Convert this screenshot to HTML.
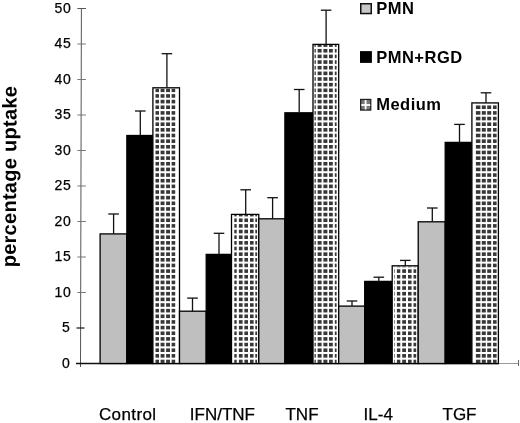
<!DOCTYPE html>
<html><head><meta charset="utf-8"><style>
html,body{margin:0;padding:0;background:#fff;}
svg{display:block;filter:blur(0.3px);}
text{font-family:"Liberation Sans",sans-serif;fill:#000;}
.tk,.xl{stroke:#000;stroke-width:0.25px;}
.tk{font-size:14px;letter-spacing:0.8px;}
.lg{font-size:16.5px;font-weight:bold;letter-spacing:0.5px;}
.xl{font-size:17px;}
.yt{font-size:20px;font-weight:bold;letter-spacing:0.28px;}
</style></head><body>
<svg width="520" height="423" viewBox="0 0 520 423">
<defs><clipPath id="cp2"><rect x="152.90" y="88.40" width="26.60" height="274.50"/></clipPath><clipPath id="cp5"><rect x="231.50" y="215.00" width="27.30" height="147.90"/></clipPath><clipPath id="cp8"><rect x="313.00" y="45.00" width="25.70" height="317.90"/></clipPath><clipPath id="cp11"><rect x="392.20" y="266.40" width="26.00" height="96.50"/></clipPath><clipPath id="cp14"><rect x="471.90" y="103.50" width="26.50" height="259.40"/></clipPath></defs>
<rect width="520" height="423" fill="#fff"/>
<line x1="81.4" y1="8.0" x2="80.5" y2="367" stroke="#555" stroke-width="1"/>
<line x1="76.5" y1="363.50" x2="84.5" y2="363.50" stroke="#222" stroke-width="1"/>
<text x="70.6" y="367.90" text-anchor="end" class="tk">0</text>
<line x1="76.5" y1="328.00" x2="84.5" y2="328.00" stroke="#222" stroke-width="1.3"/>
<text x="70.6" y="332.40" text-anchor="end" class="tk">5</text>
<line x1="77.4" y1="292.50" x2="85.9" y2="292.50" stroke="#777" stroke-width="1"/>
<text x="71.6" y="296.90" text-anchor="end" class="tk">10</text>
<line x1="77.4" y1="257.00" x2="85.9" y2="257.00" stroke="#777" stroke-width="1"/>
<text x="71.6" y="261.40" text-anchor="end" class="tk">15</text>
<line x1="77.4" y1="221.50" x2="85.9" y2="221.50" stroke="#777" stroke-width="1"/>
<text x="71.6" y="225.90" text-anchor="end" class="tk">20</text>
<line x1="77.4" y1="186.00" x2="85.9" y2="186.00" stroke="#777" stroke-width="1"/>
<text x="71.6" y="190.40" text-anchor="end" class="tk">25</text>
<line x1="77.4" y1="150.50" x2="85.9" y2="150.50" stroke="#777" stroke-width="1"/>
<text x="71.6" y="154.90" text-anchor="end" class="tk">30</text>
<line x1="77.4" y1="115.00" x2="85.9" y2="115.00" stroke="#777" stroke-width="1"/>
<text x="71.6" y="119.40" text-anchor="end" class="tk">35</text>
<line x1="77.4" y1="79.50" x2="85.9" y2="79.50" stroke="#777" stroke-width="1"/>
<text x="71.6" y="83.90" text-anchor="end" class="tk">40</text>
<line x1="77.4" y1="44.00" x2="85.9" y2="44.00" stroke="#777" stroke-width="1"/>
<text x="71.6" y="48.40" text-anchor="end" class="tk">45</text>
<line x1="77.4" y1="8.50" x2="85.9" y2="8.50" stroke="#555" stroke-width="1"/>
<text x="71.6" y="12.90" text-anchor="end" class="tk">50</text>
<line x1="76" y1="363.50" x2="499" y2="363.50" stroke="#111" stroke-width="1.3"/>
<line x1="499" y1="363.50" x2="518.5" y2="363.50" stroke="#999" stroke-width="1"/>
<line x1="518.5" y1="360" x2="518.5" y2="366" stroke="#666" stroke-width="1"/>
<rect x="100.10" y="233.90" width="26.75" height="129.60" fill="#bfbfbf" stroke="#000" stroke-width="1.3"/>
<line x1="113.60" y1="214.00" x2="113.60" y2="233.90" stroke="#111" stroke-width="1.3"/>
<line x1="108.30" y1="214.00" x2="118.90" y2="214.00" stroke="#111" stroke-width="1.3"/>
<rect x="126.85" y="135.50" width="26.05" height="228.00" fill="#000" stroke="#000" stroke-width="1.3"/>
<line x1="140.30" y1="111.00" x2="140.30" y2="135.50" stroke="#111" stroke-width="1.3"/>
<line x1="135.00" y1="111.00" x2="145.60" y2="111.00" stroke="#111" stroke-width="1.3"/>
<rect x="152.90" y="87.80" width="26.60" height="275.70" fill="#fff" stroke="#000" stroke-width="1.3"/>
<g clip-path="url(#cp2)" fill="#383838"><rect x="155.5" y="88.50" width="3.50" height="3.6"/><rect x="160.6" y="88.50" width="3.90" height="3.6"/><rect x="166.1" y="88.50" width="3.90" height="3.6"/><rect x="171.6" y="88.50" width="3.60" height="3.6"/><rect x="155.5" y="94.15" width="3.50" height="3.6"/><rect x="160.6" y="94.15" width="3.90" height="3.6"/><rect x="166.1" y="94.15" width="3.90" height="3.6"/><rect x="171.6" y="94.15" width="3.60" height="3.6"/><rect x="155.5" y="99.80" width="3.50" height="3.6"/><rect x="160.6" y="99.80" width="3.90" height="3.6"/><rect x="166.1" y="99.80" width="3.90" height="3.6"/><rect x="171.6" y="99.80" width="3.60" height="3.6"/><rect x="155.5" y="105.45" width="3.50" height="3.6"/><rect x="160.6" y="105.45" width="3.90" height="3.6"/><rect x="166.1" y="105.45" width="3.90" height="3.6"/><rect x="171.6" y="105.45" width="3.60" height="3.6"/><rect x="155.5" y="111.10" width="3.50" height="3.6"/><rect x="160.6" y="111.10" width="3.90" height="3.6"/><rect x="166.1" y="111.10" width="3.90" height="3.6"/><rect x="171.6" y="111.10" width="3.60" height="3.6"/><rect x="155.5" y="116.75" width="3.50" height="3.6"/><rect x="160.6" y="116.75" width="3.90" height="3.6"/><rect x="166.1" y="116.75" width="3.90" height="3.6"/><rect x="171.6" y="116.75" width="3.60" height="3.6"/><rect x="155.5" y="122.40" width="3.50" height="3.6"/><rect x="160.6" y="122.40" width="3.90" height="3.6"/><rect x="166.1" y="122.40" width="3.90" height="3.6"/><rect x="171.6" y="122.40" width="3.60" height="3.6"/><rect x="155.5" y="128.05" width="3.50" height="3.6"/><rect x="160.6" y="128.05" width="3.90" height="3.6"/><rect x="166.1" y="128.05" width="3.90" height="3.6"/><rect x="171.6" y="128.05" width="3.60" height="3.6"/><rect x="155.5" y="133.70" width="3.50" height="3.6"/><rect x="160.6" y="133.70" width="3.90" height="3.6"/><rect x="166.1" y="133.70" width="3.90" height="3.6"/><rect x="171.6" y="133.70" width="3.60" height="3.6"/><rect x="155.5" y="139.35" width="3.50" height="3.6"/><rect x="160.6" y="139.35" width="3.90" height="3.6"/><rect x="166.1" y="139.35" width="3.90" height="3.6"/><rect x="171.6" y="139.35" width="3.60" height="3.6"/><rect x="155.5" y="145.00" width="3.50" height="3.6"/><rect x="160.6" y="145.00" width="3.90" height="3.6"/><rect x="166.1" y="145.00" width="3.90" height="3.6"/><rect x="171.6" y="145.00" width="3.60" height="3.6"/><rect x="155.5" y="150.65" width="3.50" height="3.6"/><rect x="160.6" y="150.65" width="3.90" height="3.6"/><rect x="166.1" y="150.65" width="3.90" height="3.6"/><rect x="171.6" y="150.65" width="3.60" height="3.6"/><rect x="155.5" y="156.30" width="3.50" height="3.6"/><rect x="160.6" y="156.30" width="3.90" height="3.6"/><rect x="166.1" y="156.30" width="3.90" height="3.6"/><rect x="171.6" y="156.30" width="3.60" height="3.6"/><rect x="155.5" y="161.95" width="3.50" height="3.6"/><rect x="160.6" y="161.95" width="3.90" height="3.6"/><rect x="166.1" y="161.95" width="3.90" height="3.6"/><rect x="171.6" y="161.95" width="3.60" height="3.6"/><rect x="155.5" y="167.60" width="3.50" height="3.6"/><rect x="160.6" y="167.60" width="3.90" height="3.6"/><rect x="166.1" y="167.60" width="3.90" height="3.6"/><rect x="171.6" y="167.60" width="3.60" height="3.6"/><rect x="155.5" y="173.25" width="3.50" height="3.6"/><rect x="160.6" y="173.25" width="3.90" height="3.6"/><rect x="166.1" y="173.25" width="3.90" height="3.6"/><rect x="171.6" y="173.25" width="3.60" height="3.6"/><rect x="155.5" y="178.90" width="3.50" height="3.6"/><rect x="160.6" y="178.90" width="3.90" height="3.6"/><rect x="166.1" y="178.90" width="3.90" height="3.6"/><rect x="171.6" y="178.90" width="3.60" height="3.6"/><rect x="155.5" y="184.55" width="3.50" height="3.6"/><rect x="160.6" y="184.55" width="3.90" height="3.6"/><rect x="166.1" y="184.55" width="3.90" height="3.6"/><rect x="171.6" y="184.55" width="3.60" height="3.6"/><rect x="155.5" y="190.20" width="3.50" height="3.6"/><rect x="160.6" y="190.20" width="3.90" height="3.6"/><rect x="166.1" y="190.20" width="3.90" height="3.6"/><rect x="171.6" y="190.20" width="3.60" height="3.6"/><rect x="155.5" y="195.85" width="3.50" height="3.6"/><rect x="160.6" y="195.85" width="3.90" height="3.6"/><rect x="166.1" y="195.85" width="3.90" height="3.6"/><rect x="171.6" y="195.85" width="3.60" height="3.6"/><rect x="155.5" y="201.50" width="3.50" height="3.6"/><rect x="160.6" y="201.50" width="3.90" height="3.6"/><rect x="166.1" y="201.50" width="3.90" height="3.6"/><rect x="171.6" y="201.50" width="3.60" height="3.6"/><rect x="155.5" y="207.15" width="3.50" height="3.6"/><rect x="160.6" y="207.15" width="3.90" height="3.6"/><rect x="166.1" y="207.15" width="3.90" height="3.6"/><rect x="171.6" y="207.15" width="3.60" height="3.6"/><rect x="155.5" y="212.80" width="3.50" height="3.6"/><rect x="160.6" y="212.80" width="3.90" height="3.6"/><rect x="166.1" y="212.80" width="3.90" height="3.6"/><rect x="171.6" y="212.80" width="3.60" height="3.6"/><rect x="155.5" y="218.45" width="3.50" height="3.6"/><rect x="160.6" y="218.45" width="3.90" height="3.6"/><rect x="166.1" y="218.45" width="3.90" height="3.6"/><rect x="171.6" y="218.45" width="3.60" height="3.6"/><rect x="155.5" y="224.10" width="3.50" height="3.6"/><rect x="160.6" y="224.10" width="3.90" height="3.6"/><rect x="166.1" y="224.10" width="3.90" height="3.6"/><rect x="171.6" y="224.10" width="3.60" height="3.6"/><rect x="155.5" y="229.75" width="3.50" height="3.6"/><rect x="160.6" y="229.75" width="3.90" height="3.6"/><rect x="166.1" y="229.75" width="3.90" height="3.6"/><rect x="171.6" y="229.75" width="3.60" height="3.6"/><rect x="155.5" y="235.40" width="3.50" height="3.6"/><rect x="160.6" y="235.40" width="3.90" height="3.6"/><rect x="166.1" y="235.40" width="3.90" height="3.6"/><rect x="171.6" y="235.40" width="3.60" height="3.6"/><rect x="155.5" y="241.05" width="3.50" height="3.6"/><rect x="160.6" y="241.05" width="3.90" height="3.6"/><rect x="166.1" y="241.05" width="3.90" height="3.6"/><rect x="171.6" y="241.05" width="3.60" height="3.6"/><rect x="155.5" y="246.70" width="3.50" height="3.6"/><rect x="160.6" y="246.70" width="3.90" height="3.6"/><rect x="166.1" y="246.70" width="3.90" height="3.6"/><rect x="171.6" y="246.70" width="3.60" height="3.6"/><rect x="155.5" y="252.35" width="3.50" height="3.6"/><rect x="160.6" y="252.35" width="3.90" height="3.6"/><rect x="166.1" y="252.35" width="3.90" height="3.6"/><rect x="171.6" y="252.35" width="3.60" height="3.6"/><rect x="155.5" y="258.00" width="3.50" height="3.6"/><rect x="160.6" y="258.00" width="3.90" height="3.6"/><rect x="166.1" y="258.00" width="3.90" height="3.6"/><rect x="171.6" y="258.00" width="3.60" height="3.6"/><rect x="155.5" y="263.65" width="3.50" height="3.6"/><rect x="160.6" y="263.65" width="3.90" height="3.6"/><rect x="166.1" y="263.65" width="3.90" height="3.6"/><rect x="171.6" y="263.65" width="3.60" height="3.6"/><rect x="155.5" y="269.30" width="3.50" height="3.6"/><rect x="160.6" y="269.30" width="3.90" height="3.6"/><rect x="166.1" y="269.30" width="3.90" height="3.6"/><rect x="171.6" y="269.30" width="3.60" height="3.6"/><rect x="155.5" y="274.95" width="3.50" height="3.6"/><rect x="160.6" y="274.95" width="3.90" height="3.6"/><rect x="166.1" y="274.95" width="3.90" height="3.6"/><rect x="171.6" y="274.95" width="3.60" height="3.6"/><rect x="155.5" y="280.60" width="3.50" height="3.6"/><rect x="160.6" y="280.60" width="3.90" height="3.6"/><rect x="166.1" y="280.60" width="3.90" height="3.6"/><rect x="171.6" y="280.60" width="3.60" height="3.6"/><rect x="155.5" y="286.25" width="3.50" height="3.6"/><rect x="160.6" y="286.25" width="3.90" height="3.6"/><rect x="166.1" y="286.25" width="3.90" height="3.6"/><rect x="171.6" y="286.25" width="3.60" height="3.6"/><rect x="155.5" y="291.90" width="3.50" height="3.6"/><rect x="160.6" y="291.90" width="3.90" height="3.6"/><rect x="166.1" y="291.90" width="3.90" height="3.6"/><rect x="171.6" y="291.90" width="3.60" height="3.6"/><rect x="155.5" y="297.55" width="3.50" height="3.6"/><rect x="160.6" y="297.55" width="3.90" height="3.6"/><rect x="166.1" y="297.55" width="3.90" height="3.6"/><rect x="171.6" y="297.55" width="3.60" height="3.6"/><rect x="155.5" y="303.20" width="3.50" height="3.6"/><rect x="160.6" y="303.20" width="3.90" height="3.6"/><rect x="166.1" y="303.20" width="3.90" height="3.6"/><rect x="171.6" y="303.20" width="3.60" height="3.6"/><rect x="155.5" y="308.85" width="3.50" height="3.6"/><rect x="160.6" y="308.85" width="3.90" height="3.6"/><rect x="166.1" y="308.85" width="3.90" height="3.6"/><rect x="171.6" y="308.85" width="3.60" height="3.6"/><rect x="155.5" y="314.50" width="3.50" height="3.6"/><rect x="160.6" y="314.50" width="3.90" height="3.6"/><rect x="166.1" y="314.50" width="3.90" height="3.6"/><rect x="171.6" y="314.50" width="3.60" height="3.6"/><rect x="155.5" y="320.15" width="3.50" height="3.6"/><rect x="160.6" y="320.15" width="3.90" height="3.6"/><rect x="166.1" y="320.15" width="3.90" height="3.6"/><rect x="171.6" y="320.15" width="3.60" height="3.6"/><rect x="155.5" y="325.80" width="3.50" height="3.6"/><rect x="160.6" y="325.80" width="3.90" height="3.6"/><rect x="166.1" y="325.80" width="3.90" height="3.6"/><rect x="171.6" y="325.80" width="3.60" height="3.6"/><rect x="155.5" y="331.45" width="3.50" height="3.6"/><rect x="160.6" y="331.45" width="3.90" height="3.6"/><rect x="166.1" y="331.45" width="3.90" height="3.6"/><rect x="171.6" y="331.45" width="3.60" height="3.6"/><rect x="155.5" y="337.10" width="3.50" height="3.6"/><rect x="160.6" y="337.10" width="3.90" height="3.6"/><rect x="166.1" y="337.10" width="3.90" height="3.6"/><rect x="171.6" y="337.10" width="3.60" height="3.6"/><rect x="155.5" y="342.75" width="3.50" height="3.6"/><rect x="160.6" y="342.75" width="3.90" height="3.6"/><rect x="166.1" y="342.75" width="3.90" height="3.6"/><rect x="171.6" y="342.75" width="3.60" height="3.6"/><rect x="155.5" y="348.40" width="3.50" height="3.6"/><rect x="160.6" y="348.40" width="3.90" height="3.6"/><rect x="166.1" y="348.40" width="3.90" height="3.6"/><rect x="171.6" y="348.40" width="3.60" height="3.6"/><rect x="155.5" y="354.05" width="3.50" height="3.6"/><rect x="160.6" y="354.05" width="3.90" height="3.6"/><rect x="166.1" y="354.05" width="3.90" height="3.6"/><rect x="171.6" y="354.05" width="3.60" height="3.6"/><rect x="155.5" y="359.70" width="3.50" height="3.6"/><rect x="160.6" y="359.70" width="3.90" height="3.6"/><rect x="166.1" y="359.70" width="3.90" height="3.6"/><rect x="171.6" y="359.70" width="3.60" height="3.6"/></g>
<line x1="166.90" y1="53.70" x2="166.90" y2="87.80" stroke="#111" stroke-width="1.3"/>
<line x1="161.60" y1="53.70" x2="172.20" y2="53.70" stroke="#111" stroke-width="1.3"/>
<rect x="179.50" y="311.20" width="26.70" height="52.30" fill="#bfbfbf" stroke="#000" stroke-width="1.3"/>
<line x1="192.50" y1="298.10" x2="192.50" y2="311.20" stroke="#111" stroke-width="1.3"/>
<line x1="187.20" y1="298.10" x2="197.80" y2="298.10" stroke="#111" stroke-width="1.3"/>
<rect x="206.20" y="254.40" width="25.30" height="109.10" fill="#000" stroke="#000" stroke-width="1.3"/>
<line x1="219.00" y1="233.30" x2="219.00" y2="254.40" stroke="#111" stroke-width="1.3"/>
<line x1="213.70" y1="233.30" x2="224.30" y2="233.30" stroke="#111" stroke-width="1.3"/>
<rect x="231.50" y="214.40" width="27.30" height="149.10" fill="#fff" stroke="#000" stroke-width="1.3"/>
<g clip-path="url(#cp5)" fill="#383838"><rect x="234.3" y="212.80" width="2.40" height="3.6"/><rect x="238.9" y="212.80" width="3.70" height="3.6"/><rect x="244.4" y="212.80" width="3.60" height="3.6"/><rect x="250.0" y="212.80" width="3.60" height="3.6"/><rect x="255.3" y="212.80" width="1.80" height="3.6"/><rect x="234.3" y="218.45" width="2.40" height="3.6"/><rect x="238.9" y="218.45" width="3.70" height="3.6"/><rect x="244.4" y="218.45" width="3.60" height="3.6"/><rect x="250.0" y="218.45" width="3.60" height="3.6"/><rect x="255.3" y="218.45" width="1.80" height="3.6"/><rect x="234.3" y="224.10" width="2.40" height="3.6"/><rect x="238.9" y="224.10" width="3.70" height="3.6"/><rect x="244.4" y="224.10" width="3.60" height="3.6"/><rect x="250.0" y="224.10" width="3.60" height="3.6"/><rect x="255.3" y="224.10" width="1.80" height="3.6"/><rect x="234.3" y="229.75" width="2.40" height="3.6"/><rect x="238.9" y="229.75" width="3.70" height="3.6"/><rect x="244.4" y="229.75" width="3.60" height="3.6"/><rect x="250.0" y="229.75" width="3.60" height="3.6"/><rect x="255.3" y="229.75" width="1.80" height="3.6"/><rect x="234.3" y="235.40" width="2.40" height="3.6"/><rect x="238.9" y="235.40" width="3.70" height="3.6"/><rect x="244.4" y="235.40" width="3.60" height="3.6"/><rect x="250.0" y="235.40" width="3.60" height="3.6"/><rect x="255.3" y="235.40" width="1.80" height="3.6"/><rect x="234.3" y="241.05" width="2.40" height="3.6"/><rect x="238.9" y="241.05" width="3.70" height="3.6"/><rect x="244.4" y="241.05" width="3.60" height="3.6"/><rect x="250.0" y="241.05" width="3.60" height="3.6"/><rect x="255.3" y="241.05" width="1.80" height="3.6"/><rect x="234.3" y="246.70" width="2.40" height="3.6"/><rect x="238.9" y="246.70" width="3.70" height="3.6"/><rect x="244.4" y="246.70" width="3.60" height="3.6"/><rect x="250.0" y="246.70" width="3.60" height="3.6"/><rect x="255.3" y="246.70" width="1.80" height="3.6"/><rect x="234.3" y="252.35" width="2.40" height="3.6"/><rect x="238.9" y="252.35" width="3.70" height="3.6"/><rect x="244.4" y="252.35" width="3.60" height="3.6"/><rect x="250.0" y="252.35" width="3.60" height="3.6"/><rect x="255.3" y="252.35" width="1.80" height="3.6"/><rect x="234.3" y="258.00" width="2.40" height="3.6"/><rect x="238.9" y="258.00" width="3.70" height="3.6"/><rect x="244.4" y="258.00" width="3.60" height="3.6"/><rect x="250.0" y="258.00" width="3.60" height="3.6"/><rect x="255.3" y="258.00" width="1.80" height="3.6"/><rect x="234.3" y="263.65" width="2.40" height="3.6"/><rect x="238.9" y="263.65" width="3.70" height="3.6"/><rect x="244.4" y="263.65" width="3.60" height="3.6"/><rect x="250.0" y="263.65" width="3.60" height="3.6"/><rect x="255.3" y="263.65" width="1.80" height="3.6"/><rect x="234.3" y="269.30" width="2.40" height="3.6"/><rect x="238.9" y="269.30" width="3.70" height="3.6"/><rect x="244.4" y="269.30" width="3.60" height="3.6"/><rect x="250.0" y="269.30" width="3.60" height="3.6"/><rect x="255.3" y="269.30" width="1.80" height="3.6"/><rect x="234.3" y="274.95" width="2.40" height="3.6"/><rect x="238.9" y="274.95" width="3.70" height="3.6"/><rect x="244.4" y="274.95" width="3.60" height="3.6"/><rect x="250.0" y="274.95" width="3.60" height="3.6"/><rect x="255.3" y="274.95" width="1.80" height="3.6"/><rect x="234.3" y="280.60" width="2.40" height="3.6"/><rect x="238.9" y="280.60" width="3.70" height="3.6"/><rect x="244.4" y="280.60" width="3.60" height="3.6"/><rect x="250.0" y="280.60" width="3.60" height="3.6"/><rect x="255.3" y="280.60" width="1.80" height="3.6"/><rect x="234.3" y="286.25" width="2.40" height="3.6"/><rect x="238.9" y="286.25" width="3.70" height="3.6"/><rect x="244.4" y="286.25" width="3.60" height="3.6"/><rect x="250.0" y="286.25" width="3.60" height="3.6"/><rect x="255.3" y="286.25" width="1.80" height="3.6"/><rect x="234.3" y="291.90" width="2.40" height="3.6"/><rect x="238.9" y="291.90" width="3.70" height="3.6"/><rect x="244.4" y="291.90" width="3.60" height="3.6"/><rect x="250.0" y="291.90" width="3.60" height="3.6"/><rect x="255.3" y="291.90" width="1.80" height="3.6"/><rect x="234.3" y="297.55" width="2.40" height="3.6"/><rect x="238.9" y="297.55" width="3.70" height="3.6"/><rect x="244.4" y="297.55" width="3.60" height="3.6"/><rect x="250.0" y="297.55" width="3.60" height="3.6"/><rect x="255.3" y="297.55" width="1.80" height="3.6"/><rect x="234.3" y="303.20" width="2.40" height="3.6"/><rect x="238.9" y="303.20" width="3.70" height="3.6"/><rect x="244.4" y="303.20" width="3.60" height="3.6"/><rect x="250.0" y="303.20" width="3.60" height="3.6"/><rect x="255.3" y="303.20" width="1.80" height="3.6"/><rect x="234.3" y="308.85" width="2.40" height="3.6"/><rect x="238.9" y="308.85" width="3.70" height="3.6"/><rect x="244.4" y="308.85" width="3.60" height="3.6"/><rect x="250.0" y="308.85" width="3.60" height="3.6"/><rect x="255.3" y="308.85" width="1.80" height="3.6"/><rect x="234.3" y="314.50" width="2.40" height="3.6"/><rect x="238.9" y="314.50" width="3.70" height="3.6"/><rect x="244.4" y="314.50" width="3.60" height="3.6"/><rect x="250.0" y="314.50" width="3.60" height="3.6"/><rect x="255.3" y="314.50" width="1.80" height="3.6"/><rect x="234.3" y="320.15" width="2.40" height="3.6"/><rect x="238.9" y="320.15" width="3.70" height="3.6"/><rect x="244.4" y="320.15" width="3.60" height="3.6"/><rect x="250.0" y="320.15" width="3.60" height="3.6"/><rect x="255.3" y="320.15" width="1.80" height="3.6"/><rect x="234.3" y="325.80" width="2.40" height="3.6"/><rect x="238.9" y="325.80" width="3.70" height="3.6"/><rect x="244.4" y="325.80" width="3.60" height="3.6"/><rect x="250.0" y="325.80" width="3.60" height="3.6"/><rect x="255.3" y="325.80" width="1.80" height="3.6"/><rect x="234.3" y="331.45" width="2.40" height="3.6"/><rect x="238.9" y="331.45" width="3.70" height="3.6"/><rect x="244.4" y="331.45" width="3.60" height="3.6"/><rect x="250.0" y="331.45" width="3.60" height="3.6"/><rect x="255.3" y="331.45" width="1.80" height="3.6"/><rect x="234.3" y="337.10" width="2.40" height="3.6"/><rect x="238.9" y="337.10" width="3.70" height="3.6"/><rect x="244.4" y="337.10" width="3.60" height="3.6"/><rect x="250.0" y="337.10" width="3.60" height="3.6"/><rect x="255.3" y="337.10" width="1.80" height="3.6"/><rect x="234.3" y="342.75" width="2.40" height="3.6"/><rect x="238.9" y="342.75" width="3.70" height="3.6"/><rect x="244.4" y="342.75" width="3.60" height="3.6"/><rect x="250.0" y="342.75" width="3.60" height="3.6"/><rect x="255.3" y="342.75" width="1.80" height="3.6"/><rect x="234.3" y="348.40" width="2.40" height="3.6"/><rect x="238.9" y="348.40" width="3.70" height="3.6"/><rect x="244.4" y="348.40" width="3.60" height="3.6"/><rect x="250.0" y="348.40" width="3.60" height="3.6"/><rect x="255.3" y="348.40" width="1.80" height="3.6"/><rect x="234.3" y="354.05" width="2.40" height="3.6"/><rect x="238.9" y="354.05" width="3.70" height="3.6"/><rect x="244.4" y="354.05" width="3.60" height="3.6"/><rect x="250.0" y="354.05" width="3.60" height="3.6"/><rect x="255.3" y="354.05" width="1.80" height="3.6"/><rect x="234.3" y="359.70" width="2.40" height="3.6"/><rect x="238.9" y="359.70" width="3.70" height="3.6"/><rect x="244.4" y="359.70" width="3.60" height="3.6"/><rect x="250.0" y="359.70" width="3.60" height="3.6"/><rect x="255.3" y="359.70" width="1.80" height="3.6"/></g>
<line x1="245.70" y1="189.80" x2="245.70" y2="214.40" stroke="#111" stroke-width="1.3"/>
<line x1="240.40" y1="189.80" x2="251.00" y2="189.80" stroke="#111" stroke-width="1.3"/>
<rect x="258.80" y="218.80" width="26.10" height="144.70" fill="#bfbfbf" stroke="#000" stroke-width="1.3"/>
<line x1="272.60" y1="197.70" x2="272.60" y2="218.80" stroke="#111" stroke-width="1.3"/>
<line x1="267.30" y1="197.70" x2="277.90" y2="197.70" stroke="#111" stroke-width="1.3"/>
<rect x="284.90" y="112.80" width="28.10" height="250.70" fill="#000" stroke="#000" stroke-width="1.3"/>
<line x1="299.20" y1="89.50" x2="299.20" y2="112.80" stroke="#111" stroke-width="1.3"/>
<line x1="293.90" y1="89.50" x2="304.50" y2="89.50" stroke="#111" stroke-width="1.3"/>
<rect x="313.00" y="44.40" width="25.70" height="319.10" fill="#fff" stroke="#000" stroke-width="1.3"/>
<g clip-path="url(#cp8)" fill="#383838"><rect x="314.5" y="43.30" width="1.30" height="3.6"/><rect x="317.6" y="43.30" width="4.00" height="3.6"/><rect x="323.4" y="43.30" width="4.00" height="3.6"/><rect x="329.0" y="43.30" width="3.80" height="3.6"/><rect x="334.8" y="43.30" width="1.80" height="3.6"/><rect x="314.5" y="48.95" width="1.30" height="3.6"/><rect x="317.6" y="48.95" width="4.00" height="3.6"/><rect x="323.4" y="48.95" width="4.00" height="3.6"/><rect x="329.0" y="48.95" width="3.80" height="3.6"/><rect x="334.8" y="48.95" width="1.80" height="3.6"/><rect x="314.5" y="54.60" width="1.30" height="3.6"/><rect x="317.6" y="54.60" width="4.00" height="3.6"/><rect x="323.4" y="54.60" width="4.00" height="3.6"/><rect x="329.0" y="54.60" width="3.80" height="3.6"/><rect x="334.8" y="54.60" width="1.80" height="3.6"/><rect x="314.5" y="60.25" width="1.30" height="3.6"/><rect x="317.6" y="60.25" width="4.00" height="3.6"/><rect x="323.4" y="60.25" width="4.00" height="3.6"/><rect x="329.0" y="60.25" width="3.80" height="3.6"/><rect x="334.8" y="60.25" width="1.80" height="3.6"/><rect x="314.5" y="65.90" width="1.30" height="3.6"/><rect x="317.6" y="65.90" width="4.00" height="3.6"/><rect x="323.4" y="65.90" width="4.00" height="3.6"/><rect x="329.0" y="65.90" width="3.80" height="3.6"/><rect x="334.8" y="65.90" width="1.80" height="3.6"/><rect x="314.5" y="71.55" width="1.30" height="3.6"/><rect x="317.6" y="71.55" width="4.00" height="3.6"/><rect x="323.4" y="71.55" width="4.00" height="3.6"/><rect x="329.0" y="71.55" width="3.80" height="3.6"/><rect x="334.8" y="71.55" width="1.80" height="3.6"/><rect x="314.5" y="77.20" width="1.30" height="3.6"/><rect x="317.6" y="77.20" width="4.00" height="3.6"/><rect x="323.4" y="77.20" width="4.00" height="3.6"/><rect x="329.0" y="77.20" width="3.80" height="3.6"/><rect x="334.8" y="77.20" width="1.80" height="3.6"/><rect x="314.5" y="82.85" width="1.30" height="3.6"/><rect x="317.6" y="82.85" width="4.00" height="3.6"/><rect x="323.4" y="82.85" width="4.00" height="3.6"/><rect x="329.0" y="82.85" width="3.80" height="3.6"/><rect x="334.8" y="82.85" width="1.80" height="3.6"/><rect x="314.5" y="88.50" width="1.30" height="3.6"/><rect x="317.6" y="88.50" width="4.00" height="3.6"/><rect x="323.4" y="88.50" width="4.00" height="3.6"/><rect x="329.0" y="88.50" width="3.80" height="3.6"/><rect x="334.8" y="88.50" width="1.80" height="3.6"/><rect x="314.5" y="94.15" width="1.30" height="3.6"/><rect x="317.6" y="94.15" width="4.00" height="3.6"/><rect x="323.4" y="94.15" width="4.00" height="3.6"/><rect x="329.0" y="94.15" width="3.80" height="3.6"/><rect x="334.8" y="94.15" width="1.80" height="3.6"/><rect x="314.5" y="99.80" width="1.30" height="3.6"/><rect x="317.6" y="99.80" width="4.00" height="3.6"/><rect x="323.4" y="99.80" width="4.00" height="3.6"/><rect x="329.0" y="99.80" width="3.80" height="3.6"/><rect x="334.8" y="99.80" width="1.80" height="3.6"/><rect x="314.5" y="105.45" width="1.30" height="3.6"/><rect x="317.6" y="105.45" width="4.00" height="3.6"/><rect x="323.4" y="105.45" width="4.00" height="3.6"/><rect x="329.0" y="105.45" width="3.80" height="3.6"/><rect x="334.8" y="105.45" width="1.80" height="3.6"/><rect x="314.5" y="111.10" width="1.30" height="3.6"/><rect x="317.6" y="111.10" width="4.00" height="3.6"/><rect x="323.4" y="111.10" width="4.00" height="3.6"/><rect x="329.0" y="111.10" width="3.80" height="3.6"/><rect x="334.8" y="111.10" width="1.80" height="3.6"/><rect x="314.5" y="116.75" width="1.30" height="3.6"/><rect x="317.6" y="116.75" width="4.00" height="3.6"/><rect x="323.4" y="116.75" width="4.00" height="3.6"/><rect x="329.0" y="116.75" width="3.80" height="3.6"/><rect x="334.8" y="116.75" width="1.80" height="3.6"/><rect x="314.5" y="122.40" width="1.30" height="3.6"/><rect x="317.6" y="122.40" width="4.00" height="3.6"/><rect x="323.4" y="122.40" width="4.00" height="3.6"/><rect x="329.0" y="122.40" width="3.80" height="3.6"/><rect x="334.8" y="122.40" width="1.80" height="3.6"/><rect x="314.5" y="128.05" width="1.30" height="3.6"/><rect x="317.6" y="128.05" width="4.00" height="3.6"/><rect x="323.4" y="128.05" width="4.00" height="3.6"/><rect x="329.0" y="128.05" width="3.80" height="3.6"/><rect x="334.8" y="128.05" width="1.80" height="3.6"/><rect x="314.5" y="133.70" width="1.30" height="3.6"/><rect x="317.6" y="133.70" width="4.00" height="3.6"/><rect x="323.4" y="133.70" width="4.00" height="3.6"/><rect x="329.0" y="133.70" width="3.80" height="3.6"/><rect x="334.8" y="133.70" width="1.80" height="3.6"/><rect x="314.5" y="139.35" width="1.30" height="3.6"/><rect x="317.6" y="139.35" width="4.00" height="3.6"/><rect x="323.4" y="139.35" width="4.00" height="3.6"/><rect x="329.0" y="139.35" width="3.80" height="3.6"/><rect x="334.8" y="139.35" width="1.80" height="3.6"/><rect x="314.5" y="145.00" width="1.30" height="3.6"/><rect x="317.6" y="145.00" width="4.00" height="3.6"/><rect x="323.4" y="145.00" width="4.00" height="3.6"/><rect x="329.0" y="145.00" width="3.80" height="3.6"/><rect x="334.8" y="145.00" width="1.80" height="3.6"/><rect x="314.5" y="150.65" width="1.30" height="3.6"/><rect x="317.6" y="150.65" width="4.00" height="3.6"/><rect x="323.4" y="150.65" width="4.00" height="3.6"/><rect x="329.0" y="150.65" width="3.80" height="3.6"/><rect x="334.8" y="150.65" width="1.80" height="3.6"/><rect x="314.5" y="156.30" width="1.30" height="3.6"/><rect x="317.6" y="156.30" width="4.00" height="3.6"/><rect x="323.4" y="156.30" width="4.00" height="3.6"/><rect x="329.0" y="156.30" width="3.80" height="3.6"/><rect x="334.8" y="156.30" width="1.80" height="3.6"/><rect x="314.5" y="161.95" width="1.30" height="3.6"/><rect x="317.6" y="161.95" width="4.00" height="3.6"/><rect x="323.4" y="161.95" width="4.00" height="3.6"/><rect x="329.0" y="161.95" width="3.80" height="3.6"/><rect x="334.8" y="161.95" width="1.80" height="3.6"/><rect x="314.5" y="167.60" width="1.30" height="3.6"/><rect x="317.6" y="167.60" width="4.00" height="3.6"/><rect x="323.4" y="167.60" width="4.00" height="3.6"/><rect x="329.0" y="167.60" width="3.80" height="3.6"/><rect x="334.8" y="167.60" width="1.80" height="3.6"/><rect x="314.5" y="173.25" width="1.30" height="3.6"/><rect x="317.6" y="173.25" width="4.00" height="3.6"/><rect x="323.4" y="173.25" width="4.00" height="3.6"/><rect x="329.0" y="173.25" width="3.80" height="3.6"/><rect x="334.8" y="173.25" width="1.80" height="3.6"/><rect x="314.5" y="178.90" width="1.30" height="3.6"/><rect x="317.6" y="178.90" width="4.00" height="3.6"/><rect x="323.4" y="178.90" width="4.00" height="3.6"/><rect x="329.0" y="178.90" width="3.80" height="3.6"/><rect x="334.8" y="178.90" width="1.80" height="3.6"/><rect x="314.5" y="184.55" width="1.30" height="3.6"/><rect x="317.6" y="184.55" width="4.00" height="3.6"/><rect x="323.4" y="184.55" width="4.00" height="3.6"/><rect x="329.0" y="184.55" width="3.80" height="3.6"/><rect x="334.8" y="184.55" width="1.80" height="3.6"/><rect x="314.5" y="190.20" width="1.30" height="3.6"/><rect x="317.6" y="190.20" width="4.00" height="3.6"/><rect x="323.4" y="190.20" width="4.00" height="3.6"/><rect x="329.0" y="190.20" width="3.80" height="3.6"/><rect x="334.8" y="190.20" width="1.80" height="3.6"/><rect x="314.5" y="195.85" width="1.30" height="3.6"/><rect x="317.6" y="195.85" width="4.00" height="3.6"/><rect x="323.4" y="195.85" width="4.00" height="3.6"/><rect x="329.0" y="195.85" width="3.80" height="3.6"/><rect x="334.8" y="195.85" width="1.80" height="3.6"/><rect x="314.5" y="201.50" width="1.30" height="3.6"/><rect x="317.6" y="201.50" width="4.00" height="3.6"/><rect x="323.4" y="201.50" width="4.00" height="3.6"/><rect x="329.0" y="201.50" width="3.80" height="3.6"/><rect x="334.8" y="201.50" width="1.80" height="3.6"/><rect x="314.5" y="207.15" width="1.30" height="3.6"/><rect x="317.6" y="207.15" width="4.00" height="3.6"/><rect x="323.4" y="207.15" width="4.00" height="3.6"/><rect x="329.0" y="207.15" width="3.80" height="3.6"/><rect x="334.8" y="207.15" width="1.80" height="3.6"/><rect x="314.5" y="212.80" width="1.30" height="3.6"/><rect x="317.6" y="212.80" width="4.00" height="3.6"/><rect x="323.4" y="212.80" width="4.00" height="3.6"/><rect x="329.0" y="212.80" width="3.80" height="3.6"/><rect x="334.8" y="212.80" width="1.80" height="3.6"/><rect x="314.5" y="218.45" width="1.30" height="3.6"/><rect x="317.6" y="218.45" width="4.00" height="3.6"/><rect x="323.4" y="218.45" width="4.00" height="3.6"/><rect x="329.0" y="218.45" width="3.80" height="3.6"/><rect x="334.8" y="218.45" width="1.80" height="3.6"/><rect x="314.5" y="224.10" width="1.30" height="3.6"/><rect x="317.6" y="224.10" width="4.00" height="3.6"/><rect x="323.4" y="224.10" width="4.00" height="3.6"/><rect x="329.0" y="224.10" width="3.80" height="3.6"/><rect x="334.8" y="224.10" width="1.80" height="3.6"/><rect x="314.5" y="229.75" width="1.30" height="3.6"/><rect x="317.6" y="229.75" width="4.00" height="3.6"/><rect x="323.4" y="229.75" width="4.00" height="3.6"/><rect x="329.0" y="229.75" width="3.80" height="3.6"/><rect x="334.8" y="229.75" width="1.80" height="3.6"/><rect x="314.5" y="235.40" width="1.30" height="3.6"/><rect x="317.6" y="235.40" width="4.00" height="3.6"/><rect x="323.4" y="235.40" width="4.00" height="3.6"/><rect x="329.0" y="235.40" width="3.80" height="3.6"/><rect x="334.8" y="235.40" width="1.80" height="3.6"/><rect x="314.5" y="241.05" width="1.30" height="3.6"/><rect x="317.6" y="241.05" width="4.00" height="3.6"/><rect x="323.4" y="241.05" width="4.00" height="3.6"/><rect x="329.0" y="241.05" width="3.80" height="3.6"/><rect x="334.8" y="241.05" width="1.80" height="3.6"/><rect x="314.5" y="246.70" width="1.30" height="3.6"/><rect x="317.6" y="246.70" width="4.00" height="3.6"/><rect x="323.4" y="246.70" width="4.00" height="3.6"/><rect x="329.0" y="246.70" width="3.80" height="3.6"/><rect x="334.8" y="246.70" width="1.80" height="3.6"/><rect x="314.5" y="252.35" width="1.30" height="3.6"/><rect x="317.6" y="252.35" width="4.00" height="3.6"/><rect x="323.4" y="252.35" width="4.00" height="3.6"/><rect x="329.0" y="252.35" width="3.80" height="3.6"/><rect x="334.8" y="252.35" width="1.80" height="3.6"/><rect x="314.5" y="258.00" width="1.30" height="3.6"/><rect x="317.6" y="258.00" width="4.00" height="3.6"/><rect x="323.4" y="258.00" width="4.00" height="3.6"/><rect x="329.0" y="258.00" width="3.80" height="3.6"/><rect x="334.8" y="258.00" width="1.80" height="3.6"/><rect x="314.5" y="263.65" width="1.30" height="3.6"/><rect x="317.6" y="263.65" width="4.00" height="3.6"/><rect x="323.4" y="263.65" width="4.00" height="3.6"/><rect x="329.0" y="263.65" width="3.80" height="3.6"/><rect x="334.8" y="263.65" width="1.80" height="3.6"/><rect x="314.5" y="269.30" width="1.30" height="3.6"/><rect x="317.6" y="269.30" width="4.00" height="3.6"/><rect x="323.4" y="269.30" width="4.00" height="3.6"/><rect x="329.0" y="269.30" width="3.80" height="3.6"/><rect x="334.8" y="269.30" width="1.80" height="3.6"/><rect x="314.5" y="274.95" width="1.30" height="3.6"/><rect x="317.6" y="274.95" width="4.00" height="3.6"/><rect x="323.4" y="274.95" width="4.00" height="3.6"/><rect x="329.0" y="274.95" width="3.80" height="3.6"/><rect x="334.8" y="274.95" width="1.80" height="3.6"/><rect x="314.5" y="280.60" width="1.30" height="3.6"/><rect x="317.6" y="280.60" width="4.00" height="3.6"/><rect x="323.4" y="280.60" width="4.00" height="3.6"/><rect x="329.0" y="280.60" width="3.80" height="3.6"/><rect x="334.8" y="280.60" width="1.80" height="3.6"/><rect x="314.5" y="286.25" width="1.30" height="3.6"/><rect x="317.6" y="286.25" width="4.00" height="3.6"/><rect x="323.4" y="286.25" width="4.00" height="3.6"/><rect x="329.0" y="286.25" width="3.80" height="3.6"/><rect x="334.8" y="286.25" width="1.80" height="3.6"/><rect x="314.5" y="291.90" width="1.30" height="3.6"/><rect x="317.6" y="291.90" width="4.00" height="3.6"/><rect x="323.4" y="291.90" width="4.00" height="3.6"/><rect x="329.0" y="291.90" width="3.80" height="3.6"/><rect x="334.8" y="291.90" width="1.80" height="3.6"/><rect x="314.5" y="297.55" width="1.30" height="3.6"/><rect x="317.6" y="297.55" width="4.00" height="3.6"/><rect x="323.4" y="297.55" width="4.00" height="3.6"/><rect x="329.0" y="297.55" width="3.80" height="3.6"/><rect x="334.8" y="297.55" width="1.80" height="3.6"/><rect x="314.5" y="303.20" width="1.30" height="3.6"/><rect x="317.6" y="303.20" width="4.00" height="3.6"/><rect x="323.4" y="303.20" width="4.00" height="3.6"/><rect x="329.0" y="303.20" width="3.80" height="3.6"/><rect x="334.8" y="303.20" width="1.80" height="3.6"/><rect x="314.5" y="308.85" width="1.30" height="3.6"/><rect x="317.6" y="308.85" width="4.00" height="3.6"/><rect x="323.4" y="308.85" width="4.00" height="3.6"/><rect x="329.0" y="308.85" width="3.80" height="3.6"/><rect x="334.8" y="308.85" width="1.80" height="3.6"/><rect x="314.5" y="314.50" width="1.30" height="3.6"/><rect x="317.6" y="314.50" width="4.00" height="3.6"/><rect x="323.4" y="314.50" width="4.00" height="3.6"/><rect x="329.0" y="314.50" width="3.80" height="3.6"/><rect x="334.8" y="314.50" width="1.80" height="3.6"/><rect x="314.5" y="320.15" width="1.30" height="3.6"/><rect x="317.6" y="320.15" width="4.00" height="3.6"/><rect x="323.4" y="320.15" width="4.00" height="3.6"/><rect x="329.0" y="320.15" width="3.80" height="3.6"/><rect x="334.8" y="320.15" width="1.80" height="3.6"/><rect x="314.5" y="325.80" width="1.30" height="3.6"/><rect x="317.6" y="325.80" width="4.00" height="3.6"/><rect x="323.4" y="325.80" width="4.00" height="3.6"/><rect x="329.0" y="325.80" width="3.80" height="3.6"/><rect x="334.8" y="325.80" width="1.80" height="3.6"/><rect x="314.5" y="331.45" width="1.30" height="3.6"/><rect x="317.6" y="331.45" width="4.00" height="3.6"/><rect x="323.4" y="331.45" width="4.00" height="3.6"/><rect x="329.0" y="331.45" width="3.80" height="3.6"/><rect x="334.8" y="331.45" width="1.80" height="3.6"/><rect x="314.5" y="337.10" width="1.30" height="3.6"/><rect x="317.6" y="337.10" width="4.00" height="3.6"/><rect x="323.4" y="337.10" width="4.00" height="3.6"/><rect x="329.0" y="337.10" width="3.80" height="3.6"/><rect x="334.8" y="337.10" width="1.80" height="3.6"/><rect x="314.5" y="342.75" width="1.30" height="3.6"/><rect x="317.6" y="342.75" width="4.00" height="3.6"/><rect x="323.4" y="342.75" width="4.00" height="3.6"/><rect x="329.0" y="342.75" width="3.80" height="3.6"/><rect x="334.8" y="342.75" width="1.80" height="3.6"/><rect x="314.5" y="348.40" width="1.30" height="3.6"/><rect x="317.6" y="348.40" width="4.00" height="3.6"/><rect x="323.4" y="348.40" width="4.00" height="3.6"/><rect x="329.0" y="348.40" width="3.80" height="3.6"/><rect x="334.8" y="348.40" width="1.80" height="3.6"/><rect x="314.5" y="354.05" width="1.30" height="3.6"/><rect x="317.6" y="354.05" width="4.00" height="3.6"/><rect x="323.4" y="354.05" width="4.00" height="3.6"/><rect x="329.0" y="354.05" width="3.80" height="3.6"/><rect x="334.8" y="354.05" width="1.80" height="3.6"/><rect x="314.5" y="359.70" width="1.30" height="3.6"/><rect x="317.6" y="359.70" width="4.00" height="3.6"/><rect x="323.4" y="359.70" width="4.00" height="3.6"/><rect x="329.0" y="359.70" width="3.80" height="3.6"/><rect x="334.8" y="359.70" width="1.80" height="3.6"/></g>
<line x1="326.10" y1="10.20" x2="326.10" y2="44.40" stroke="#111" stroke-width="1.3"/>
<line x1="320.80" y1="10.20" x2="331.40" y2="10.20" stroke="#111" stroke-width="1.3"/>
<rect x="338.70" y="306.10" width="26.00" height="57.40" fill="#bfbfbf" stroke="#000" stroke-width="1.3"/>
<line x1="352.00" y1="301.00" x2="352.00" y2="306.10" stroke="#111" stroke-width="1.3"/>
<line x1="346.70" y1="301.00" x2="357.30" y2="301.00" stroke="#111" stroke-width="1.3"/>
<rect x="364.70" y="281.40" width="27.50" height="82.10" fill="#000" stroke="#000" stroke-width="1.3"/>
<line x1="378.80" y1="277.20" x2="378.80" y2="281.40" stroke="#111" stroke-width="1.3"/>
<line x1="373.50" y1="277.20" x2="384.10" y2="277.20" stroke="#111" stroke-width="1.3"/>
<rect x="392.20" y="265.80" width="26.00" height="97.70" fill="#fff" stroke="#000" stroke-width="1.3"/>
<g clip-path="url(#cp11)" fill="#383838"><rect x="394.2" y="263.65" width="0.60" height="3.6"/><rect x="396.9" y="263.65" width="3.40" height="3.6"/><rect x="402.2" y="263.65" width="3.80" height="3.6"/><rect x="408.0" y="263.65" width="3.60" height="3.6"/><rect x="413.5" y="263.65" width="2.70" height="3.6"/><rect x="394.2" y="269.30" width="0.60" height="3.6"/><rect x="396.9" y="269.30" width="3.40" height="3.6"/><rect x="402.2" y="269.30" width="3.80" height="3.6"/><rect x="408.0" y="269.30" width="3.60" height="3.6"/><rect x="413.5" y="269.30" width="2.70" height="3.6"/><rect x="394.2" y="274.95" width="0.60" height="3.6"/><rect x="396.9" y="274.95" width="3.40" height="3.6"/><rect x="402.2" y="274.95" width="3.80" height="3.6"/><rect x="408.0" y="274.95" width="3.60" height="3.6"/><rect x="413.5" y="274.95" width="2.70" height="3.6"/><rect x="394.2" y="280.60" width="0.60" height="3.6"/><rect x="396.9" y="280.60" width="3.40" height="3.6"/><rect x="402.2" y="280.60" width="3.80" height="3.6"/><rect x="408.0" y="280.60" width="3.60" height="3.6"/><rect x="413.5" y="280.60" width="2.70" height="3.6"/><rect x="394.2" y="286.25" width="0.60" height="3.6"/><rect x="396.9" y="286.25" width="3.40" height="3.6"/><rect x="402.2" y="286.25" width="3.80" height="3.6"/><rect x="408.0" y="286.25" width="3.60" height="3.6"/><rect x="413.5" y="286.25" width="2.70" height="3.6"/><rect x="394.2" y="291.90" width="0.60" height="3.6"/><rect x="396.9" y="291.90" width="3.40" height="3.6"/><rect x="402.2" y="291.90" width="3.80" height="3.6"/><rect x="408.0" y="291.90" width="3.60" height="3.6"/><rect x="413.5" y="291.90" width="2.70" height="3.6"/><rect x="394.2" y="297.55" width="0.60" height="3.6"/><rect x="396.9" y="297.55" width="3.40" height="3.6"/><rect x="402.2" y="297.55" width="3.80" height="3.6"/><rect x="408.0" y="297.55" width="3.60" height="3.6"/><rect x="413.5" y="297.55" width="2.70" height="3.6"/><rect x="394.2" y="303.20" width="0.60" height="3.6"/><rect x="396.9" y="303.20" width="3.40" height="3.6"/><rect x="402.2" y="303.20" width="3.80" height="3.6"/><rect x="408.0" y="303.20" width="3.60" height="3.6"/><rect x="413.5" y="303.20" width="2.70" height="3.6"/><rect x="394.2" y="308.85" width="0.60" height="3.6"/><rect x="396.9" y="308.85" width="3.40" height="3.6"/><rect x="402.2" y="308.85" width="3.80" height="3.6"/><rect x="408.0" y="308.85" width="3.60" height="3.6"/><rect x="413.5" y="308.85" width="2.70" height="3.6"/><rect x="394.2" y="314.50" width="0.60" height="3.6"/><rect x="396.9" y="314.50" width="3.40" height="3.6"/><rect x="402.2" y="314.50" width="3.80" height="3.6"/><rect x="408.0" y="314.50" width="3.60" height="3.6"/><rect x="413.5" y="314.50" width="2.70" height="3.6"/><rect x="394.2" y="320.15" width="0.60" height="3.6"/><rect x="396.9" y="320.15" width="3.40" height="3.6"/><rect x="402.2" y="320.15" width="3.80" height="3.6"/><rect x="408.0" y="320.15" width="3.60" height="3.6"/><rect x="413.5" y="320.15" width="2.70" height="3.6"/><rect x="394.2" y="325.80" width="0.60" height="3.6"/><rect x="396.9" y="325.80" width="3.40" height="3.6"/><rect x="402.2" y="325.80" width="3.80" height="3.6"/><rect x="408.0" y="325.80" width="3.60" height="3.6"/><rect x="413.5" y="325.80" width="2.70" height="3.6"/><rect x="394.2" y="331.45" width="0.60" height="3.6"/><rect x="396.9" y="331.45" width="3.40" height="3.6"/><rect x="402.2" y="331.45" width="3.80" height="3.6"/><rect x="408.0" y="331.45" width="3.60" height="3.6"/><rect x="413.5" y="331.45" width="2.70" height="3.6"/><rect x="394.2" y="337.10" width="0.60" height="3.6"/><rect x="396.9" y="337.10" width="3.40" height="3.6"/><rect x="402.2" y="337.10" width="3.80" height="3.6"/><rect x="408.0" y="337.10" width="3.60" height="3.6"/><rect x="413.5" y="337.10" width="2.70" height="3.6"/><rect x="394.2" y="342.75" width="0.60" height="3.6"/><rect x="396.9" y="342.75" width="3.40" height="3.6"/><rect x="402.2" y="342.75" width="3.80" height="3.6"/><rect x="408.0" y="342.75" width="3.60" height="3.6"/><rect x="413.5" y="342.75" width="2.70" height="3.6"/><rect x="394.2" y="348.40" width="0.60" height="3.6"/><rect x="396.9" y="348.40" width="3.40" height="3.6"/><rect x="402.2" y="348.40" width="3.80" height="3.6"/><rect x="408.0" y="348.40" width="3.60" height="3.6"/><rect x="413.5" y="348.40" width="2.70" height="3.6"/><rect x="394.2" y="354.05" width="0.60" height="3.6"/><rect x="396.9" y="354.05" width="3.40" height="3.6"/><rect x="402.2" y="354.05" width="3.80" height="3.6"/><rect x="408.0" y="354.05" width="3.60" height="3.6"/><rect x="413.5" y="354.05" width="2.70" height="3.6"/><rect x="394.2" y="359.70" width="0.60" height="3.6"/><rect x="396.9" y="359.70" width="3.40" height="3.6"/><rect x="402.2" y="359.70" width="3.80" height="3.6"/><rect x="408.0" y="359.70" width="3.60" height="3.6"/><rect x="413.5" y="359.70" width="2.70" height="3.6"/></g>
<line x1="405.30" y1="260.40" x2="405.30" y2="265.80" stroke="#111" stroke-width="1.3"/>
<line x1="400.00" y1="260.40" x2="410.60" y2="260.40" stroke="#111" stroke-width="1.3"/>
<rect x="418.20" y="221.80" width="27.00" height="141.70" fill="#bfbfbf" stroke="#000" stroke-width="1.3"/>
<line x1="432.30" y1="208.00" x2="432.30" y2="221.80" stroke="#111" stroke-width="1.3"/>
<line x1="427.00" y1="208.00" x2="437.60" y2="208.00" stroke="#111" stroke-width="1.3"/>
<rect x="445.20" y="142.40" width="26.70" height="221.10" fill="#000" stroke="#000" stroke-width="1.3"/>
<line x1="459.50" y1="124.40" x2="459.50" y2="142.40" stroke="#111" stroke-width="1.3"/>
<line x1="454.20" y1="124.40" x2="464.80" y2="124.40" stroke="#111" stroke-width="1.3"/>
<rect x="471.90" y="102.90" width="26.50" height="260.60" fill="#fff" stroke="#000" stroke-width="1.3"/>
<g clip-path="url(#cp14)" fill="#383838"><rect x="475.9" y="99.80" width="4.50" height="3.6"/><rect x="481.8" y="99.80" width="4.00" height="3.6"/><rect x="487.2" y="99.80" width="4.00" height="3.6"/><rect x="493.0" y="99.80" width="3.60" height="3.6"/><rect x="475.9" y="105.45" width="4.50" height="3.6"/><rect x="481.8" y="105.45" width="4.00" height="3.6"/><rect x="487.2" y="105.45" width="4.00" height="3.6"/><rect x="493.0" y="105.45" width="3.60" height="3.6"/><rect x="475.9" y="111.10" width="4.50" height="3.6"/><rect x="481.8" y="111.10" width="4.00" height="3.6"/><rect x="487.2" y="111.10" width="4.00" height="3.6"/><rect x="493.0" y="111.10" width="3.60" height="3.6"/><rect x="475.9" y="116.75" width="4.50" height="3.6"/><rect x="481.8" y="116.75" width="4.00" height="3.6"/><rect x="487.2" y="116.75" width="4.00" height="3.6"/><rect x="493.0" y="116.75" width="3.60" height="3.6"/><rect x="475.9" y="122.40" width="4.50" height="3.6"/><rect x="481.8" y="122.40" width="4.00" height="3.6"/><rect x="487.2" y="122.40" width="4.00" height="3.6"/><rect x="493.0" y="122.40" width="3.60" height="3.6"/><rect x="475.9" y="128.05" width="4.50" height="3.6"/><rect x="481.8" y="128.05" width="4.00" height="3.6"/><rect x="487.2" y="128.05" width="4.00" height="3.6"/><rect x="493.0" y="128.05" width="3.60" height="3.6"/><rect x="475.9" y="133.70" width="4.50" height="3.6"/><rect x="481.8" y="133.70" width="4.00" height="3.6"/><rect x="487.2" y="133.70" width="4.00" height="3.6"/><rect x="493.0" y="133.70" width="3.60" height="3.6"/><rect x="475.9" y="139.35" width="4.50" height="3.6"/><rect x="481.8" y="139.35" width="4.00" height="3.6"/><rect x="487.2" y="139.35" width="4.00" height="3.6"/><rect x="493.0" y="139.35" width="3.60" height="3.6"/><rect x="475.9" y="145.00" width="4.50" height="3.6"/><rect x="481.8" y="145.00" width="4.00" height="3.6"/><rect x="487.2" y="145.00" width="4.00" height="3.6"/><rect x="493.0" y="145.00" width="3.60" height="3.6"/><rect x="475.9" y="150.65" width="4.50" height="3.6"/><rect x="481.8" y="150.65" width="4.00" height="3.6"/><rect x="487.2" y="150.65" width="4.00" height="3.6"/><rect x="493.0" y="150.65" width="3.60" height="3.6"/><rect x="475.9" y="156.30" width="4.50" height="3.6"/><rect x="481.8" y="156.30" width="4.00" height="3.6"/><rect x="487.2" y="156.30" width="4.00" height="3.6"/><rect x="493.0" y="156.30" width="3.60" height="3.6"/><rect x="475.9" y="161.95" width="4.50" height="3.6"/><rect x="481.8" y="161.95" width="4.00" height="3.6"/><rect x="487.2" y="161.95" width="4.00" height="3.6"/><rect x="493.0" y="161.95" width="3.60" height="3.6"/><rect x="475.9" y="167.60" width="4.50" height="3.6"/><rect x="481.8" y="167.60" width="4.00" height="3.6"/><rect x="487.2" y="167.60" width="4.00" height="3.6"/><rect x="493.0" y="167.60" width="3.60" height="3.6"/><rect x="475.9" y="173.25" width="4.50" height="3.6"/><rect x="481.8" y="173.25" width="4.00" height="3.6"/><rect x="487.2" y="173.25" width="4.00" height="3.6"/><rect x="493.0" y="173.25" width="3.60" height="3.6"/><rect x="475.9" y="178.90" width="4.50" height="3.6"/><rect x="481.8" y="178.90" width="4.00" height="3.6"/><rect x="487.2" y="178.90" width="4.00" height="3.6"/><rect x="493.0" y="178.90" width="3.60" height="3.6"/><rect x="475.9" y="184.55" width="4.50" height="3.6"/><rect x="481.8" y="184.55" width="4.00" height="3.6"/><rect x="487.2" y="184.55" width="4.00" height="3.6"/><rect x="493.0" y="184.55" width="3.60" height="3.6"/><rect x="475.9" y="190.20" width="4.50" height="3.6"/><rect x="481.8" y="190.20" width="4.00" height="3.6"/><rect x="487.2" y="190.20" width="4.00" height="3.6"/><rect x="493.0" y="190.20" width="3.60" height="3.6"/><rect x="475.9" y="195.85" width="4.50" height="3.6"/><rect x="481.8" y="195.85" width="4.00" height="3.6"/><rect x="487.2" y="195.85" width="4.00" height="3.6"/><rect x="493.0" y="195.85" width="3.60" height="3.6"/><rect x="475.9" y="201.50" width="4.50" height="3.6"/><rect x="481.8" y="201.50" width="4.00" height="3.6"/><rect x="487.2" y="201.50" width="4.00" height="3.6"/><rect x="493.0" y="201.50" width="3.60" height="3.6"/><rect x="475.9" y="207.15" width="4.50" height="3.6"/><rect x="481.8" y="207.15" width="4.00" height="3.6"/><rect x="487.2" y="207.15" width="4.00" height="3.6"/><rect x="493.0" y="207.15" width="3.60" height="3.6"/><rect x="475.9" y="212.80" width="4.50" height="3.6"/><rect x="481.8" y="212.80" width="4.00" height="3.6"/><rect x="487.2" y="212.80" width="4.00" height="3.6"/><rect x="493.0" y="212.80" width="3.60" height="3.6"/><rect x="475.9" y="218.45" width="4.50" height="3.6"/><rect x="481.8" y="218.45" width="4.00" height="3.6"/><rect x="487.2" y="218.45" width="4.00" height="3.6"/><rect x="493.0" y="218.45" width="3.60" height="3.6"/><rect x="475.9" y="224.10" width="4.50" height="3.6"/><rect x="481.8" y="224.10" width="4.00" height="3.6"/><rect x="487.2" y="224.10" width="4.00" height="3.6"/><rect x="493.0" y="224.10" width="3.60" height="3.6"/><rect x="475.9" y="229.75" width="4.50" height="3.6"/><rect x="481.8" y="229.75" width="4.00" height="3.6"/><rect x="487.2" y="229.75" width="4.00" height="3.6"/><rect x="493.0" y="229.75" width="3.60" height="3.6"/><rect x="475.9" y="235.40" width="4.50" height="3.6"/><rect x="481.8" y="235.40" width="4.00" height="3.6"/><rect x="487.2" y="235.40" width="4.00" height="3.6"/><rect x="493.0" y="235.40" width="3.60" height="3.6"/><rect x="475.9" y="241.05" width="4.50" height="3.6"/><rect x="481.8" y="241.05" width="4.00" height="3.6"/><rect x="487.2" y="241.05" width="4.00" height="3.6"/><rect x="493.0" y="241.05" width="3.60" height="3.6"/><rect x="475.9" y="246.70" width="4.50" height="3.6"/><rect x="481.8" y="246.70" width="4.00" height="3.6"/><rect x="487.2" y="246.70" width="4.00" height="3.6"/><rect x="493.0" y="246.70" width="3.60" height="3.6"/><rect x="475.9" y="252.35" width="4.50" height="3.6"/><rect x="481.8" y="252.35" width="4.00" height="3.6"/><rect x="487.2" y="252.35" width="4.00" height="3.6"/><rect x="493.0" y="252.35" width="3.60" height="3.6"/><rect x="475.9" y="258.00" width="4.50" height="3.6"/><rect x="481.8" y="258.00" width="4.00" height="3.6"/><rect x="487.2" y="258.00" width="4.00" height="3.6"/><rect x="493.0" y="258.00" width="3.60" height="3.6"/><rect x="475.9" y="263.65" width="4.50" height="3.6"/><rect x="481.8" y="263.65" width="4.00" height="3.6"/><rect x="487.2" y="263.65" width="4.00" height="3.6"/><rect x="493.0" y="263.65" width="3.60" height="3.6"/><rect x="475.9" y="269.30" width="4.50" height="3.6"/><rect x="481.8" y="269.30" width="4.00" height="3.6"/><rect x="487.2" y="269.30" width="4.00" height="3.6"/><rect x="493.0" y="269.30" width="3.60" height="3.6"/><rect x="475.9" y="274.95" width="4.50" height="3.6"/><rect x="481.8" y="274.95" width="4.00" height="3.6"/><rect x="487.2" y="274.95" width="4.00" height="3.6"/><rect x="493.0" y="274.95" width="3.60" height="3.6"/><rect x="475.9" y="280.60" width="4.50" height="3.6"/><rect x="481.8" y="280.60" width="4.00" height="3.6"/><rect x="487.2" y="280.60" width="4.00" height="3.6"/><rect x="493.0" y="280.60" width="3.60" height="3.6"/><rect x="475.9" y="286.25" width="4.50" height="3.6"/><rect x="481.8" y="286.25" width="4.00" height="3.6"/><rect x="487.2" y="286.25" width="4.00" height="3.6"/><rect x="493.0" y="286.25" width="3.60" height="3.6"/><rect x="475.9" y="291.90" width="4.50" height="3.6"/><rect x="481.8" y="291.90" width="4.00" height="3.6"/><rect x="487.2" y="291.90" width="4.00" height="3.6"/><rect x="493.0" y="291.90" width="3.60" height="3.6"/><rect x="475.9" y="297.55" width="4.50" height="3.6"/><rect x="481.8" y="297.55" width="4.00" height="3.6"/><rect x="487.2" y="297.55" width="4.00" height="3.6"/><rect x="493.0" y="297.55" width="3.60" height="3.6"/><rect x="475.9" y="303.20" width="4.50" height="3.6"/><rect x="481.8" y="303.20" width="4.00" height="3.6"/><rect x="487.2" y="303.20" width="4.00" height="3.6"/><rect x="493.0" y="303.20" width="3.60" height="3.6"/><rect x="475.9" y="308.85" width="4.50" height="3.6"/><rect x="481.8" y="308.85" width="4.00" height="3.6"/><rect x="487.2" y="308.85" width="4.00" height="3.6"/><rect x="493.0" y="308.85" width="3.60" height="3.6"/><rect x="475.9" y="314.50" width="4.50" height="3.6"/><rect x="481.8" y="314.50" width="4.00" height="3.6"/><rect x="487.2" y="314.50" width="4.00" height="3.6"/><rect x="493.0" y="314.50" width="3.60" height="3.6"/><rect x="475.9" y="320.15" width="4.50" height="3.6"/><rect x="481.8" y="320.15" width="4.00" height="3.6"/><rect x="487.2" y="320.15" width="4.00" height="3.6"/><rect x="493.0" y="320.15" width="3.60" height="3.6"/><rect x="475.9" y="325.80" width="4.50" height="3.6"/><rect x="481.8" y="325.80" width="4.00" height="3.6"/><rect x="487.2" y="325.80" width="4.00" height="3.6"/><rect x="493.0" y="325.80" width="3.60" height="3.6"/><rect x="475.9" y="331.45" width="4.50" height="3.6"/><rect x="481.8" y="331.45" width="4.00" height="3.6"/><rect x="487.2" y="331.45" width="4.00" height="3.6"/><rect x="493.0" y="331.45" width="3.60" height="3.6"/><rect x="475.9" y="337.10" width="4.50" height="3.6"/><rect x="481.8" y="337.10" width="4.00" height="3.6"/><rect x="487.2" y="337.10" width="4.00" height="3.6"/><rect x="493.0" y="337.10" width="3.60" height="3.6"/><rect x="475.9" y="342.75" width="4.50" height="3.6"/><rect x="481.8" y="342.75" width="4.00" height="3.6"/><rect x="487.2" y="342.75" width="4.00" height="3.6"/><rect x="493.0" y="342.75" width="3.60" height="3.6"/><rect x="475.9" y="348.40" width="4.50" height="3.6"/><rect x="481.8" y="348.40" width="4.00" height="3.6"/><rect x="487.2" y="348.40" width="4.00" height="3.6"/><rect x="493.0" y="348.40" width="3.60" height="3.6"/><rect x="475.9" y="354.05" width="4.50" height="3.6"/><rect x="481.8" y="354.05" width="4.00" height="3.6"/><rect x="487.2" y="354.05" width="4.00" height="3.6"/><rect x="493.0" y="354.05" width="3.60" height="3.6"/><rect x="475.9" y="359.70" width="4.50" height="3.6"/><rect x="481.8" y="359.70" width="4.00" height="3.6"/><rect x="487.2" y="359.70" width="4.00" height="3.6"/><rect x="493.0" y="359.70" width="3.60" height="3.6"/></g>
<line x1="486.00" y1="92.80" x2="486.00" y2="102.90" stroke="#111" stroke-width="1.3"/>
<line x1="480.70" y1="92.80" x2="491.30" y2="92.80" stroke="#111" stroke-width="1.3"/>
<rect x="360.75" y="3.75" width="10.5" height="9.8" fill="#c8c8c8" stroke="#111" stroke-width="1.5"/>
<rect x="360.0" y="51.1" width="11.9" height="11.8" fill="#000"/>
<rect x="360.65" y="99.45" width="10.1" height="10.6" fill="#777" stroke="#222" stroke-width="1.3"/>
<rect x="364.7" y="100.1" width="1.8" height="9.3" fill="#fff"/>
<rect x="361.3" y="104.1" width="8.9" height="1.8" fill="#fff"/>
<text x="376.2" y="13.8" class="lg">PMN</text>
<text x="376.2" y="62.8" class="lg">PMN+RGD</text>
<text x="376.2" y="109.5" class="lg">Medium</text>
<text x="127.7" y="419.6" text-anchor="middle" class="xl" letter-spacing="0.4">Control</text>
<text x="222.4" y="419.6" text-anchor="middle" class="xl">IFN/TNF</text>
<text x="302.0" y="419.6" text-anchor="middle" class="xl">TNF</text>
<text x="378.2" y="419.6" text-anchor="middle" class="xl">IL-4</text>
<text x="459.5" y="419.6" text-anchor="middle" class="xl">TGF</text>
<text transform="translate(16.2,176.6) rotate(-89.75)" text-anchor="middle" class="yt">percentage uptake</text>
</svg>
</body></html>
